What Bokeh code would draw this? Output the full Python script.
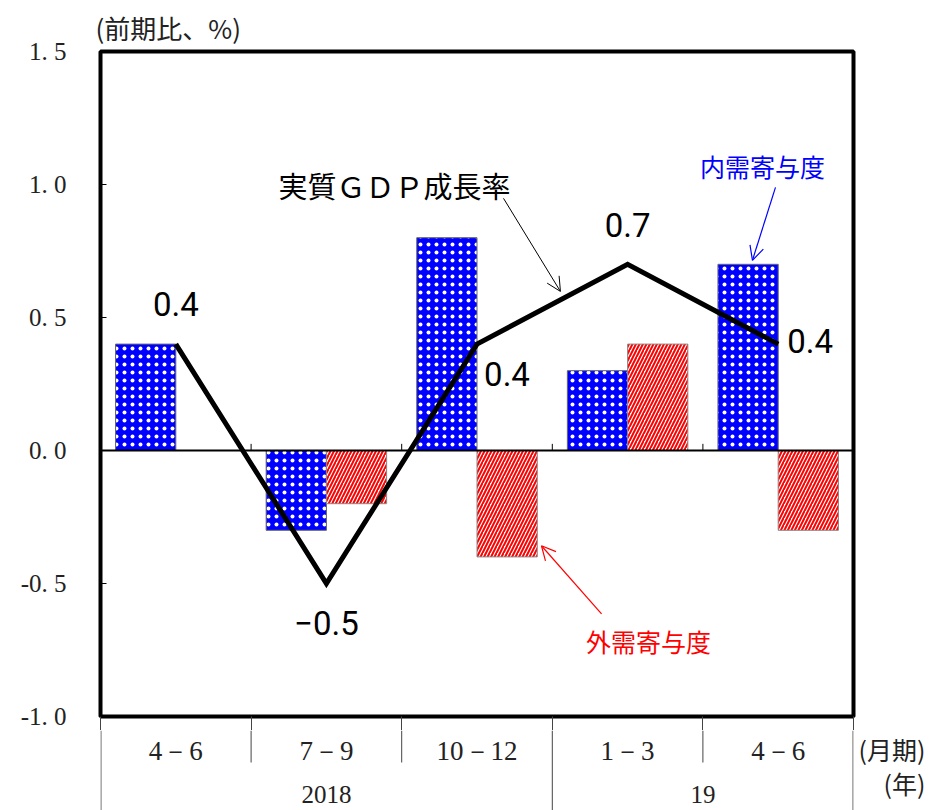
from bokeh.plotting import figure
from bokeh.layouts import column
from bokeh.models import (ColumnDataSource, Range1d, FixedTicker, Span, Arrow,
                          OpenHead, Label, LinearAxis)
from bokeh.transform import dodge
from bokeh.core.properties import value
from bokeh.embed import file_html
from bokeh.resources import INLINE

# ---- data -----------------------------------------------------------------
quarters = ["4－6", "7－9", "10－12", "1－3", "4－6"]
years = ["2018", "19"]
year_spans = [3, 2]                      # quarters covered by each year label
gdp_growth = [0.4, -0.5, 0.4, 0.7, 0.4]  # real GDP growth, q/q %
domestic = [0.4, -0.3, 0.8, 0.3, 0.7]    # domestic demand contribution
external = [0.0, -0.2, -0.4, 0.4, -0.3]  # external demand contribution
y_ticks = [-1.0, -0.5, 0.0, 0.5, 1.0, 1.5]
row_titles = ["(月期)", "\u3000(年)"]

# ---- layout constants (pixels) -------------------------------------------
W, H = 942, 810
FRAME_L, FRAME_R, FRAME_T, FRAME_B = 100, 853, 50, 716
STUB = 14                     # part of the period table drawn by the main panel
n = len(quarters)
centers = [i + 0.5 for i in range(n)]
bounds_all = list(range(n + 1))

SERIF = "Liberation Serif"
CJK = "Noto Sans CJK JP"
NUM = "Roboto"


def fmt(v):
    return f"{v:.1f}".replace("-", "−")


def tick_fmt(v):
    return f"{v:.1f}".replace(".", ". ")


# ---- main panel -----------------------------------------------------------
p = figure(width=W, height=FRAME_B + STUB,
           x_range=Range1d(0, n), y_range=Range1d(y_ticks[0], y_ticks[-1]),
           x_axis_type=None, output_backend="svg", toolbar_location=None,
           min_border_left=FRAME_L, min_border_right=W - FRAME_R,
           min_border_top=FRAME_T, min_border_bottom=STUB,
           title="(前期比、%)")
p.title.text_font = CJK
p.title.text_font_size = "26px"
p.title.text_font_style = "normal"
p.title.text_color = "#222222"
p.title.align = "left"
p.title.offset = -5
p.title.standoff = 12

p.outline_line_color = "black"
p.outline_line_width = 4
p.grid.visible = False
p.background_fill_color = "white"
p.border_fill_color = "white"

yax = p.yaxis[0]
yax.ticker = FixedTicker(ticks=y_ticks)
yax.major_label_overrides = {t: tick_fmt(t) for t in y_ticks}
yax.axis_line_color = None
yax.major_tick_in = 6
yax.major_tick_out = 0
yax.major_tick_line_color = "black"
yax.minor_tick_line_color = None
yax.major_label_standoff = 34
yax.major_label_text_font = SERIF
yax.major_label_text_font_size = "25px"
yax.major_label_text_color = "#222222"

# top of the period table: separator ticks hanging below the frame
xax = LinearAxis(ticker=FixedTicker(ticks=bounds_all), major_tick_out=STUB,
                 major_tick_in=0, axis_line_color=None,
                 major_tick_line_color="#444444", minor_tick_line_color=None,
                 major_label_text_font_size="0px", major_label_standoff=0)
xax.major_label_overrides = {b: "" for b in bounds_all}
p.add_layout(xax, "below")

src = ColumnDataSource(dict(
    x=centers, domestic=domestic, external=external, gdp=gdp_growth,
    label=[fmt(v) for v in gdp_growth],
    dx=[0, 0, 30, 0, 32], dy=[-40, 39, 30, -39, -3],
))

# domestic demand: blue bars with white dots
p.vbar(x=dodge("x", -0.2), top="domestic", bottom=0, width=0.4, source=src,
       fill_color="#0000FF", line_color="#666666", line_width=1,
       hatch_pattern="dot", hatch_color="white", hatch_scale=8,
       hatch_weight=1.3)
# external demand: red diagonal stripes on white
p.vbar(x=dodge("x", 0.2), top="external", bottom=0, width=0.4, source=src,
       fill_color="white", line_color="#888888", line_width=1,
       hatch_pattern="right_diagonal_line", hatch_color="#FF0000",
       hatch_scale=7, hatch_weight=2.0)

p.add_layout(Span(location=0, dimension="width", line_color="black",
                  line_width=2))
inner = list(range(1, n))
p.segment(x0=inner, y0=[0] * len(inner), x1=inner,
          y1=[0.025] * len(inner), line_color="black", line_width=1)

# GDP growth line and its value labels
p.line("x", "gdp", source=src, line_color="black", line_width=5,
       line_join="miter")
p.text(x="x", y="gdp", text="label", source=src, x_offset="dx",
       y_offset="dy", text_align="center", text_baseline="middle",
       text_font=value(NUM), text_font_size="33px", text_color="black")

# callouts
p.add_layout(Label(x=1.952, y=1.0, text="実質ＧＤＰ成長率", text_font=CJK,
                   text_font_size="29px", text_color="black",
                   text_align="center", text_baseline="middle"))
p.add_layout(Arrow(x_start=2.676, y_start=0.948, x_end=3.054, y_end=0.598,
                   line_color="black", line_width=1,
                   end=OpenHead(size=14, line_color="black", line_width=1)))

p.add_layout(Label(x=4.396, y=1.068, text="内需寄与度", text_font=CJK,
                   text_font_size="25px", text_color="#0000FF",
                   text_align="center", text_baseline="middle"))
p.add_layout(Arrow(x_start=4.482, y_start=0.989, x_end=4.329, y_end=0.715,
                   line_color="#0000FF", line_width=1.2,
                   end=OpenHead(size=14, line_color="#0000FF", line_width=1.2)))

p.add_layout(Label(x=3.639, y=-0.718, text="外需寄与度", text_font=CJK,
                   text_font_size="25px", text_color="#FF0000",
                   text_align="center", text_baseline="middle"))
p.add_layout(Arrow(x_start=3.327, y_start=-0.614, x_end=2.928, y_end=-0.358,
                   line_color="#FF0000", line_width=1.2,
                   end=OpenHead(size=14, line_color="#FF0000", line_width=1.2)))

# ---- period table below the panel ---------------------------------------
tab_h = H - (FRAME_B + STUB)
q = figure(width=W, height=tab_h,
           x_range=Range1d(0, n), y_range=Range1d(tab_h, 0),
           x_axis_type=None, y_axis_type=None, output_backend="svg",
           toolbar_location=None, min_border_left=FRAME_L,
           min_border_right=W - FRAME_R, min_border_top=0, min_border_bottom=0)
q.outline_line_color = None
q.grid.visible = False
q.background_fill_color = "white"
q.border_fill_color = "white"

year_edges = [0]
for s in year_spans:
    year_edges.append(year_edges[-1] + s)
short = [b for b in range(1, n) if b not in year_edges]
edge_x = [min(max(e, 0.003), n - 0.003) for e in year_edges]
q.segment(x0=edge_x, y0=[0] * len(edge_x), x1=edge_x, y1=[tab_h] * len(edge_x),
          line_color="#444444", line_width=1)
q.segment(x0=short, y0=[0] * len(short), x1=short, y1=[32] * len(short),
          line_color="#444444", line_width=1)

q.text(x=centers, y=[20] * n, text=quarters, text_align="center",
       text_baseline="middle", text_font=value(SERIF), text_font_size="27px",
       text_color="#222222")
year_centers = [(a + b) / 2 for a, b in zip(year_edges[:-1], year_edges[1:])]
q.text(x=year_centers, y=[64] * len(years), text=years, text_align="center",
       text_baseline="middle", text_font=value(SERIF), text_font_size="25px",
       text_color="#222222")

# row titles of the table, set as labels of an axis on the right
row_y = [18, 52]
rax = LinearAxis(ticker=FixedTicker(ticks=row_y), axis_line_color=None,
                 major_tick_line_color=None, minor_tick_line_color=None,
                 major_tick_in=0, major_tick_out=0, major_label_standoff=5,
                 major_label_text_font=CJK, major_label_text_font_size="25px",
                 major_label_text_color="#222222")
rax.major_label_overrides = dict(zip(row_y, row_titles))
q.add_layout(rax, "right")

layout = column(p, q, spacing=0)
open("out.html", "w").write(file_html(layout, INLINE))
